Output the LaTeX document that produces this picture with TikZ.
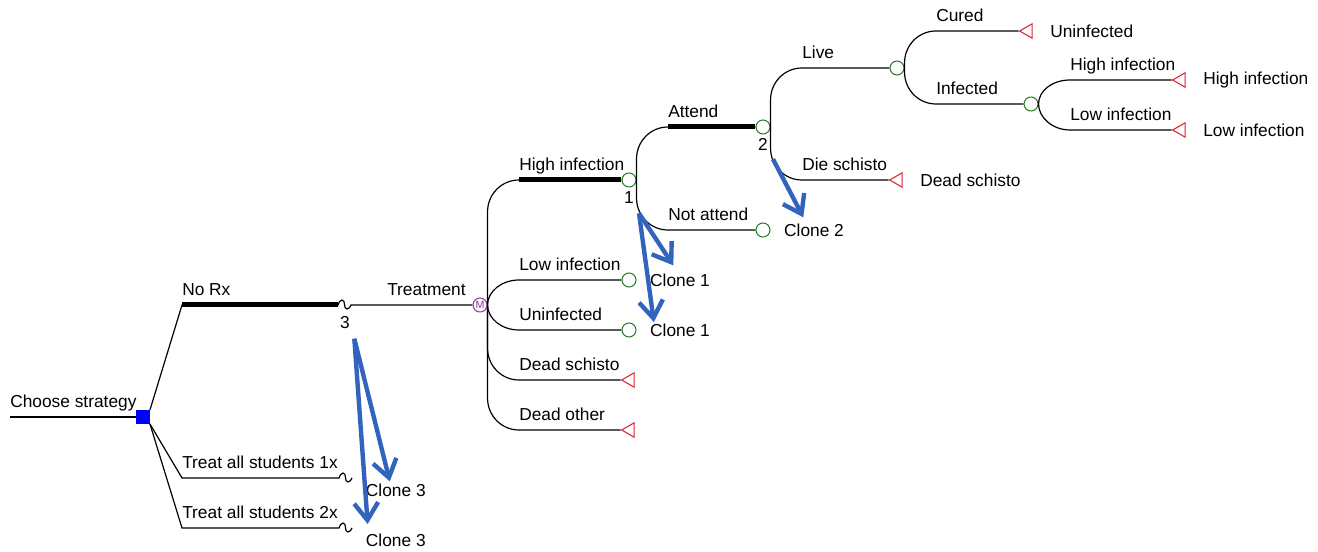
\documentclass[tikz,border=0pt]{standalone}
\usepackage{fontspec}
\setmainfont{Liberation Sans}
\usetikzlibrary{arrows.meta,positioning,shapes.geometric}

\definecolor{decblue}{RGB}{0,0,255}
\definecolor{chgreen}{RGB}{40,125,40}
\definecolor{mkvpurple}{RGB}{150,50,160}
\definecolor{termred}{RGB}{225,35,45}
\definecolor{clnblue}{RGB}{50,100,190}

\begin{document}
\begin{tikzpicture}[
  x=0.75pt,y=-0.75pt,
  every node/.style={font=\fontsize{13}{15}\selectfont},
  decision/.style={rectangle,fill=decblue,draw=decblue,minimum size=10pt,inner sep=0pt},
  chance/.style ={circle,draw=chgreen,fill=white,line width=0.8pt,
                  minimum size=10.5pt,inner sep=0pt},
  markov/.style ={circle,draw=mkvpurple,fill=white,line width=0.8pt,
                  minimum size=10.5pt,inner sep=0pt,
                  font=\fontsize{8}{8}\selectfont,text=mkvpurple},
  terminal/.style={regular polygon,regular polygon sides=3,shape border rotate=90,
                  draw=termred,fill=white,line width=0.8pt,minimum size=12.5pt,inner sep=0pt},
  ln/.style  ={line width=0.9pt},
  % branch leaving a node: vertical, quarter circle, then horizontal
  brup/.style={to path={-- ([yshift=-24pt]\tikztostart |- \tikztotarget)
                 .. controls ([yshift=-10.75pt]\tikztostart |- \tikztotarget)
                 and ([xshift=-13.25pt]\tikztotarget) .. (\tikztotarget)}},
  brdn/.style={to path={-- ([yshift=24pt]\tikztostart |- \tikztotarget)
                 .. controls ([yshift=10.75pt]\tikztostart |- \tikztotarget)
                 and ([xshift=-13.25pt]\tikztotarget) .. (\tikztotarget)}},
  shup/.style={to path={.. controls ([yshift=10pt]\tikztostart)
                 and ([xshift=-13.25pt]\tikztotarget) .. (\tikztotarget)}},
  shdn/.style={to path={.. controls ([yshift=-10pt]\tikztostart)
                 and ([xshift=-13.25pt]\tikztotarget) .. (\tikztotarget)}},
  bar/.style ={line width=3.75pt},
  lbl/.style ={anchor=base west,inner sep=0pt,yshift=7pt},
  rlbl/.style={anchor=west,inner sep=0pt},
  num/.style ={inner sep=0pt},
  cln/.style ={-{Straight Barb[length=13pt,width=18pt]},line width=3.3pt,clnblue},
  squig/.style={insert path={to[out=60,in=180] ++(4,-5) to[out=0,in=180] ++(5,9)
                             to[out=0,in=240] ++(4,-4)}}]

  % ===== decision node and its three strategies =====
  \coordinate (root) at (10,417);
  \node[decision] (D) at (143,417) {};
  \node[lbl] (l-cs) at (root) {Choose strategy};
  \draw[ln] (root) -- (D.west);

  \coordinate (nrx) at (182,305);
  \coordinate (sqa) at (338,305);
  \coordinate (t1)  at (182,478);
  \coordinate (t1e) at (339,478);
  \coordinate (t2)  at (182,528);
  \coordinate (t2e) at (339,528);

  \node[markov] (M) at (480,305) {M};

  \draw[ln] (D.north east) -- (nrx) -- (sqa) [squig] -- (M.west);
  \draw[bar] (nrx) -- (sqa);
  \draw[ln] (D.south east) -- (t1) -- (t1e) [squig];
  \draw[ln] (D.south east) -- (t2) -- (t2e) [squig];

  \node[lbl] (l-nrx) at (nrx) {No Rx};
  \node[lbl] (l-t1)  at (t1)  {Treat all students 1x};
  \node[lbl] (l-t2)  at (t2)  {Treat all students 2x};
  \node[lbl] (l-tr)  at (387,305) {Treatment};
  \node[num] (n3)    at (345,323) {3};
  \node[rlbl] (c3a) at ([xshift=20pt,yshift=-9pt]t1e) {Clone 3};
  \node[rlbl] (c3b) at ([xshift=20pt,yshift=-9pt]t2e) {Clone 3};

  % ===== Markov node: health states =====
  \coordinate (hi) at (519,180);
  \coordinate (lo) at (519,280);
  \coordinate (un) at (519,330);
  \coordinate (ds) at (519,380);
  \coordinate (do) at (519,430);
  \node[chance]   (N1) at (629,180) {};
  \node[chance]   (N5) at (629,280) {};
  \node[chance]   (N6) at (629,330) {};
  \node[terminal] (T1) at (630,380) {};
  \node[terminal] (T2) at (630,430) {};

  \draw[ln] (M.east) to[brup] (hi) -- (N1.west);
  \draw[bar] (hi) -- (N1.west);
  \draw[ln] (M.east) to[shup] (lo) -- (N5.west);
  \draw[ln] (M.east) to[shdn] (un) -- (N6.west);
  \draw[ln] (M.east) to[brdn] (ds) -- (T1.west);
  \draw[ln] (M.east) to[brdn] (do) -- (T2.west);

  \node[lbl] (l-hi) at (hi) {High infection};
  \node[lbl] (l-lo) at (lo) {Low infection};
  \node[lbl] (l-un) at (un) {Uninfected};
  \node[lbl] (l-ds) at (ds) {Dead schisto};
  \node[lbl] (l-do) at (do) {Dead other};
  \node[num, below=3pt of N1] (n1) {1};
  \node[rlbl, right=10pt of N5] (c1a) {Clone 1};
  \node[rlbl, right=10pt of N6] (c1b) {Clone 1};

  % ===== attendance =====
  \coordinate (att) at (668,127);
  \coordinate (nat) at (668,230);
  \node[chance] (N2) at (763,127) {};
  \node[chance] (N7) at (763,230) {};
  \draw[ln] (N1.east) to[brup] (att) -- (N2.west);
  \draw[bar] (att) -- (N2.west);
  \draw[ln] (N1.east) to[brdn] (nat) -- (N7.west);
  \node[lbl] (l-att) at (att) {Attend};
  \node[lbl] (l-nat) at (nat) {Not attend};
  \node[num, below=3pt of N2] (n2) {2};
  \node[rlbl, right=10pt of N7] (c2) {Clone 2};

  % ===== survival and outcome =====
  \coordinate (live) at (802,68);
  \coordinate (die)  at (802,180);
  \node[chance]   (N3) at (897,68) {};
  \node[terminal] (T3) at (898,180) {};
  \draw[ln] (N2.east) to[brup] (live) -- (N3.west);
  \draw[ln] (N2.east) to[brdn] (die) -- (T3.west);
  \node[lbl] (l-live) at (live) {Live};
  \node[lbl] (l-die)  at (die)  {Die schisto};
  \node[rlbl, right=13pt of T3] (o-ds) {Dead schisto};

  \coordinate (cur) at (936,31);
  \coordinate (inf) at (936,104);
  \node[terminal] (T4) at (1028,31) {};
  \node[chance]   (N4) at (1031,104) {};
  \draw[ln] (N3.east) to[brup] (cur) -- (T4.west);
  \draw[ln] (N3.east) to[brdn] (inf) -- (N4.west);
  \node[lbl] (l-cur) at (cur) {Cured};
  \node[lbl] (l-inf) at (inf) {Infected};
  \node[rlbl, right=13pt of T4] (o-un) {Uninfected};

  \coordinate (hinf) at (1070,80);
  \coordinate (linf) at (1070,130);
  \node[terminal] (T5) at (1181,80) {};
  \node[terminal] (T6) at (1181,130) {};
  \draw[ln] (N4.east) to[shup] (hinf) -- (T5.west);
  \draw[ln] (N4.east) to[shdn] (linf) -- (T6.west);
  \node[lbl] (l-hinf) at (hinf) {High infection};
  \node[lbl] (l-linf) at (linf) {Low infection};
  \node[rlbl, right=13pt of T5] (o-hi) {High infection};
  \node[rlbl, right=13pt of T6] (o-lo) {Low infection};

  % ===== clone links (blue) =====
  \draw[cln] ([xshift=7pt,yshift=-7pt]n3.south) -- ([xshift=-4.5pt,yshift=1.5pt]c3a.north);
  \draw[cln] ([xshift=7pt,yshift=-7pt]n3.south) -- ([xshift=1.5pt,yshift=7pt]c3b.north west);
  \draw[cln] ([xshift=7.5pt,yshift=-7pt]n1.south) -- ([xshift=-5pt,yshift=6pt]c1a.north);
  \draw[cln] ([xshift=7.5pt,yshift=-7pt]n1.south) -- ([xshift=3pt,yshift=1pt]c1b.north west);
  \draw[cln] ([xshift=7.5pt,yshift=-6pt]n2.south) -- ([xshift=-8pt,yshift=4.5pt]c2.north);

  \useasboundingbox (0,0) rectangle (1318,552);
\end{tikzpicture}
\end{document}
